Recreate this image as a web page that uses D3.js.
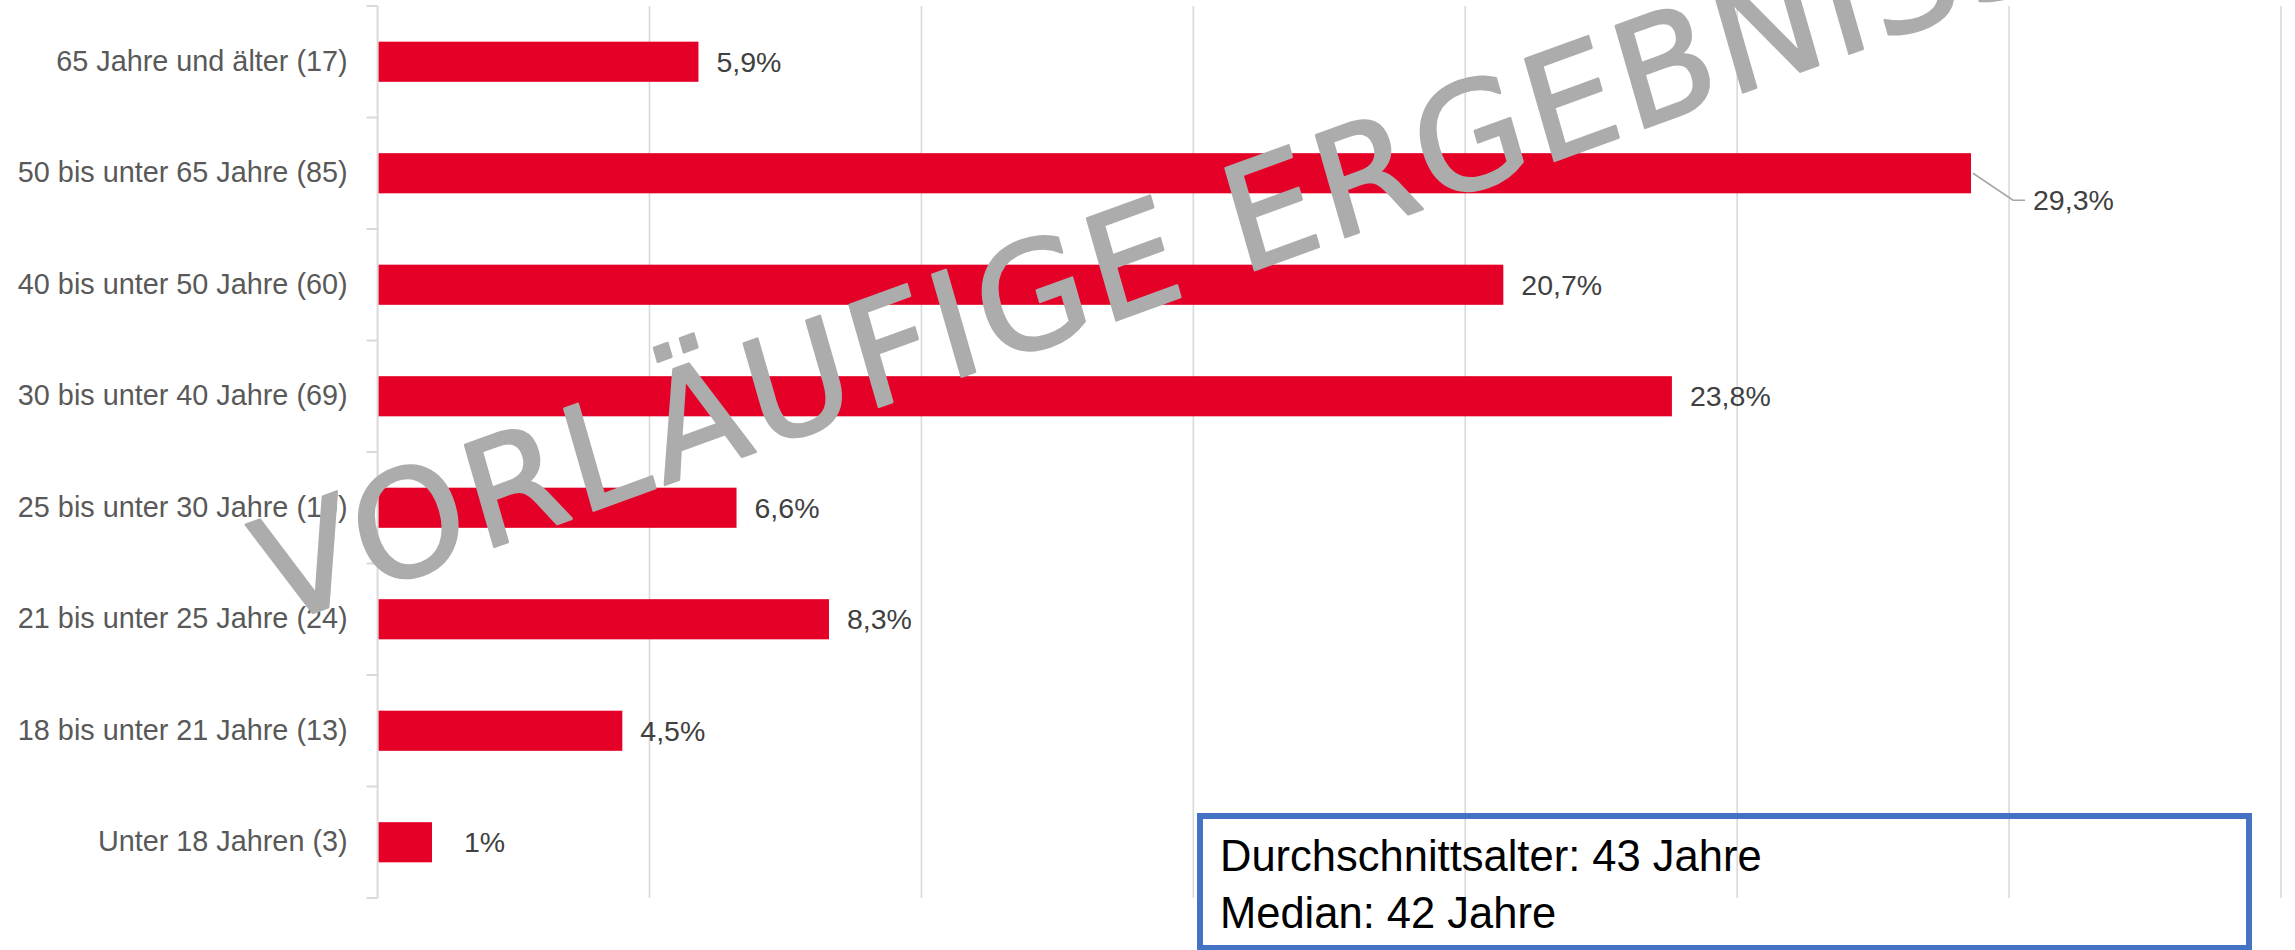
<!DOCTYPE html>
<html>
<head>
<meta charset="utf-8">
<script src="https://cdn.jsdelivr.net/npm/d3@7"></script>
<style>
  body { margin: 0; background: #fff; }
  svg { display: block; }
</style>
</head>
<body>
<svg id="chart"></svg>
<script>
var categories = [
  "65 Jahre und älter (17)",
  "50 bis unter 65 Jahre (85)",
  "40 bis unter 50 Jahre (60)",
  "30 bis unter 40 Jahre (69)",
  "25 bis unter 30 Jahre (19)",
  "21 bis unter 25 Jahre (24)",
  "18 bis unter 21 Jahre (13)",
  "Unter 18 Jahren (3)"
];
var shares = [5.9, 29.3, 20.7, 23.8, 6.6, 8.3, 4.5, 1.0];
var shareLabels = ["5,9%", "29,3%", "20,7%", "23,8%", "6,6%", "8,3%", "4,5%", "1%"];
var xTicks = [0, 5, 10, 15, 20, 25, 30, 35];
var infoLines = ["Durchschnittsalter: 43 Jahre", "Median: 42 Jahre"];
var watermark = "VORLÄUFIGE ERGEBNISSE";

var width = 2295, height = 950;
var margin = { top: 6, left: 377.6, right: 14, bottom: 52 };
var plotBottom = height - margin.bottom;

var svg = d3.select("#chart").attr("width", width).attr("height", height);

var x = d3.scaleLinear()
  .domain([0, 35])
  .range([margin.left, width - margin.right]);

var y = d3.scaleBand()
  .domain(categories)
  .range([margin.top, plotBottom])
  .paddingInner(0.64)
  .paddingOuter(0.32);

// step without padding, for the little tick marks between categories
var yRows = d3.scaleBand().domain(categories).range([margin.top, plotBottom]);

var font = "'Liberation Sans', Arial, sans-serif";

// gridlines
svg.append("g").selectAll("line")
  .data(xTicks.slice(1))
  .enter().append("line")
  .attr("x1", function(d) { return x(d); })
  .attr("x2", function(d) { return x(d); })
  .attr("y1", margin.top)
  .attr("y2", plotBottom)
  .attr("stroke", "#d9d9d9")
  .attr("stroke-width", 1.6);

// category axis
var yAxis = d3.axisLeft(y).tickSize(0).tickPadding(30);
var gy = svg.append("g")
  .attr("transform", "translate(" + margin.left + ",0)")
  .call(yAxis);
gy.select(".domain").remove();
gy.selectAll("text")
  .attr("font-family", font)
  .attr("font-size", 28.8)
  .attr("fill", "#595959");

svg.append("line")
  .attr("x1", margin.left).attr("x2", margin.left)
  .attr("y1", margin.top).attr("y2", plotBottom)
  .attr("stroke", "#d9d9d9").attr("stroke-width", 2);

svg.append("g").selectAll("line")
  .data(d3.range(categories.length + 1))
  .enter().append("line")
  .attr("x1", margin.left - 11).attr("x2", margin.left)
  .attr("y1", function(i) { return margin.top + i * yRows.step(); })
  .attr("y2", function(i) { return margin.top + i * yRows.step(); })
  .attr("stroke", "#d9d9d9").attr("stroke-width", 2);

// bars
svg.append("g").selectAll("rect")
  .data(shares)
  .enter().append("rect")
  .attr("x", x(0) + 1)
  .attr("y", function(d, i) { return y(categories[i]); })
  .attr("width", function(d) { return x(d) - x(0) - 1; })
  .attr("height", y.bandwidth())
  .attr("fill", "#e50027");

// data labels (two of them were moved by hand in the original)
var nudge = {
  "50 bis unter 65 Jahre (85)": { dx: 44, dy: 27 },
  "Unter 18 Jahren (3)": { dx: 14, dy: 0 }
};

var labels = svg.append("g");
shares.forEach(function(v, i) {
  var cat = categories[i];
  var n = nudge[cat] || { dx: 0, dy: 0 };
  var bx = x(v);
  var cy = y(cat) + y.bandwidth() / 2;
  var lx = bx + 18 + n.dx;
  var ly = cy + n.dy;
  if (n.dy) {
    labels.append("polyline")
      .attr("points", [[bx + 2, cy], [lx - 20, ly], [lx - 8, ly]].join(" "))
      .attr("fill", "none")
      .attr("stroke", "#a6a6a6")
      .attr("stroke-width", 1.6);
  }
  labels.append("text")
    .attr("x", lx)
    .attr("y", ly)
    .attr("dy", "0.35em")
    .attr("font-family", font)
    .attr("font-size", 28.5)
    .attr("fill", "#404040")
    .text(shareLabels[i]);
});

// info box
svg.append("rect")
  .attr("x", 1200).attr("y", 816)
  .attr("width", 1049).attr("height", 132)
  .attr("fill", "none")
  .attr("stroke", "#4472c4")
  .attr("stroke-width", 6);

svg.append("g").selectAll("text")
  .data(infoLines)
  .enter().append("text")
  .attr("x", 1220)
  .attr("y", function(d, i) { return 871 + i * 57; })
  .attr("font-family", font)
  .attr("font-size", 43.5)
  .attr("fill", "#000")
  .text(function(d) { return d; });

// watermark on top of everything
svg.append("text")
  .attr("transform", "translate(274,627) rotate(-20) skewX(-4)")
  .attr("x", 0).attr("y", 0)
  .attr("font-family", "'DejaVu Sans', sans-serif")
  .attr("font-size", 145)
  .attr("textLength", 1995)
  .attr("lengthAdjust", "spacing")
  .attr("fill", "#acacac")
  .attr("stroke", "#acacac")
  .attr("stroke-width", 2.5)
  .attr("stroke-linejoin", "round")
  .text(watermark);
</script>
</body>
</html>
